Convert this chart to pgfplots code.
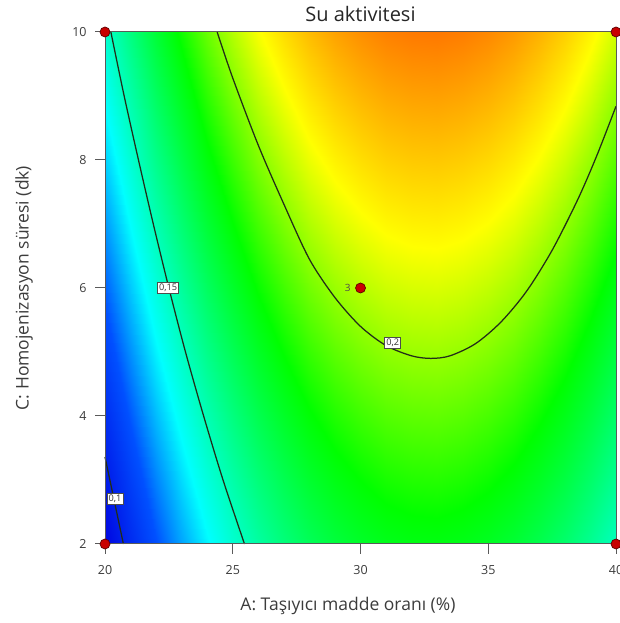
\documentclass[border=0pt]{standalone}
\usepackage{fontspec}
\setmainfont{Open Sans}
\usepackage{pgfplots}
\usepackage{pgfplotstable}
\pgfplotsset{compat=1.18}
\definecolor{cline}{RGB}{35,45,25}
\definecolor{dpfill}{RGB}{200,0,0}
\definecolor{dpdraw}{RGB}{90,0,0}
\definecolor{axgray}{RGB}{90,90,90}
\definecolor{txt}{RGB}{60,60,60}

% response surface (A, C, Su aktivitesi)
\pgfplotstableread{
A C f
20 2 0.0877
21 2 0.1017
22 2 0.1145
23 2 0.1262
24 2 0.1367
25 2 0.1461
26 2 0.1543
27 2 0.1614
28 2 0.1674
29 2 0.1722
30 2 0.1758
31 2 0.1784
32 2 0.1797
33 2 0.1800
34 2 0.1790
35 2 0.1770
36 2 0.1738
37 2 0.1694
38 2 0.1639
39 2 0.1573
40 2 0.1495
20 6 0.1172
21 6 0.1312
22 6 0.1440
23 6 0.1557
24 6 0.1662
25 6 0.1756
26 6 0.1838
27 6 0.1909
28 6 0.1969
29 6 0.2017
30 6 0.2053
31 6 0.2079
32 6 0.2092
33 6 0.2095
34 6 0.2085
35 6 0.2065
36 6 0.2033
37 6 0.1989
38 6 0.1934
39 6 0.1868
40 6 0.1790
20 10 0.1467
21 10 0.1607
22 10 0.1735
23 10 0.1852
24 10 0.1957
25 10 0.2051
26 10 0.2133
27 10 0.2204
28 10 0.2264
29 10 0.2312
30 10 0.2348
31 10 0.2374
32 10 0.2387
33 10 0.2390
34 10 0.2380
35 10 0.2360
36 10 0.2328
37 10 0.2284
38 10 0.2229
39 10 0.2163
40 10 0.2085
}\surfdata

\begin{document}
\begin{tikzpicture}
\begin{axis}[
  name=ax,
  scale only axis,
  width=306.6pt, height=307.2pt,
  xmin=20, xmax=40, ymin=2, ymax=10,
  xtick={20,25,30,35,40}, ytick={2,4,6,8,10},
  xtick pos=bottom, ytick pos=left,
  tick align=outside,
  major tick length=6pt,
  tick style={draw=axgray, line width=0.6pt},
  axis line style={draw=axgray, line width=0.6pt},
  axis on top,
  colormap={de}{rgb255(0pt)=(0,5,225); rgb255(27pt)=(0,80,255);
    rgb255(50pt)=(0,255,255); rgb255(72pt)=(0,255,130);
    rgb255(95pt)=(0,255,0); rgb255(126pt)=(255,255,0);
    rgb255(151pt)=(255,120,0)},
  point meta min=0.088, point meta max=0.239,
  xlabel={A: Taşıyıcı madde oranı (\%)},
  ylabel={C: Homojenizasyon süresi (dk)},
  xlabel style={at={(axis description cs:0.4755,-0.121)}, anchor=center,
    font=\fontsize{10.5}{12}\selectfont, text=txt},
  ylabel style={at={(axis description cs:-0.1585,0.5)}, anchor=center,
    font=\fontsize{10.5}{12}\selectfont, text=txt},
  tick label style={font=\fontsize{7.5}{9}\selectfont, text=txt},
  xticklabel style={yshift=-3.5pt},
  yticklabel style={xshift=-1.5pt},
  /pgf/number format/assume math mode=true,
  clip=false,
]
  \addplot[surf, shader=interp, mesh/cols=21, point meta=\thisrow{f}]
    table[x=A, y=C] {\surfdata};

  % contour 0.1
  \addplot[cline, line width=0.75pt, smooth]
    coordinates {(20.00,3.36) (20.36,2.68) (20.72,2.00)};
  % contour 0.15
  \addplot[cline, line width=0.75pt, smooth]
    coordinates {(20.23,10) (20.75,9) (21.31,8) (21.89,7) (22.50,6)
                 (23.15,5) (23.86,4) (24.62,3) (25.46,2)};
  % contour 0.2
  \addplot[cline, line width=0.75pt, smooth]
    coordinates {(24.39,10.00) (25,9.28) (26,8.23) (27,7.31) (28,6.45)
                 (29,5.85) (30,5.40) (31,5.10) (32,4.94) (32.75,4.90)
                 (33.5,4.94) (34.5,5.13) (35.5,5.47) (36.5,5.95)
                 (37.5,6.59) (38.5,7.38) (39.25,8.07) (40,8.84)};

  \node[fill=white, draw=black!70, line width=0.4pt, inner sep=1pt,
    font=\fontsize{5.5}{6}\selectfont, text=black!80] at (axis cs:20.39,2.70) {0,1};
  \node[fill=white, draw=black!70, line width=0.4pt, inner sep=1pt,
    font=\fontsize{5.5}{6}\selectfont, text=black!80] at (axis cs:22.47,6.00) {0,15};
  \node[fill=white, draw=black!70, line width=0.4pt, inner sep=1pt,
    font=\fontsize{5.5}{6}\selectfont, text=black!80] at (axis cs:31.26,5.14) {0,2};

  % design points
  \addplot[only marks, mark=*, mark size=3pt,
    mark options={fill=dpfill, draw=dpdraw, line width=0.4pt}]
    coordinates {(20,2) (20,10) (40,2) (40,10) (30,6)};
  \node[font=\fontsize{6}{7}\selectfont, text=black!70] at (axis cs:29.5,6.0) {3};

  \node[anchor=base, yshift=6pt, font=\fontsize{12}{14}\selectfont, text=black!85]
    at (rel axis cs:0.5,1) {Su aktivitesi};

  \coordinate (bbsw) at (rel axis cs:0,0);
  \coordinate (bbne) at (rel axis cs:1,1);
\end{axis}
\pgfresetboundingbox
\path ([xshift=-63pt,yshift=-47.4pt]bbsw) rectangle ([xshift=1.8pt,yshift=19.2pt]bbne);
\end{tikzpicture}
\end{document}
